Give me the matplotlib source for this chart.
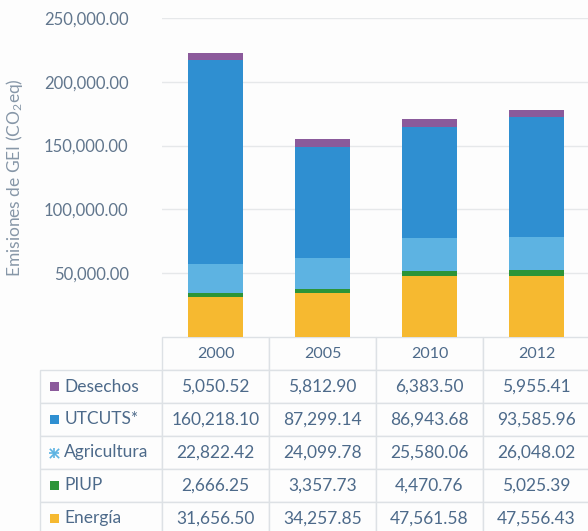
import matplotlib

matplotlib.use("Agg")
import matplotlib.pyplot as plt
from matplotlib.patches import Rectangle

years = ["2000", "2005", "2010", "2012"]
sectors = ["Desechos", "UTCUTS*", "Agricultura", "PIUP", "Energía"]
desechos = [5050.52, 5812.90, 6383.50, 5955.41]
utcuts = [160218.1, 87299.14, 86943.68, 93585.96]
agricultura = [22822.42, 24099.78, 25580.06, 26048.02]
piup = [2666.25, 3357.73, 4470.76, 5025.39]
energia = [31656.50, 34257.85, 47561.58, 47556.43]
colors = ["#8b5a9b", "#2f8fd1", "#5db3e2", "#2c9438", "#f6b930"]

TXT = "#4d6a8a"
plt.rcParams["font.family"] = ["Lato", "DejaVu Sans"]
plt.rcParams["mathtext.default"] = "regular"

W, H = 588, 531
fig = plt.figure(figsize=(W / 100, H / 100), dpi=100)
fig.patch.set_facecolor("#fdfdfd")
ax_l, ax_r, ax_t, ax_b = 162, 590, 18, 337
ax = fig.add_axes([ax_l / W, 1 - ax_b / H, (ax_r - ax_l) / W, (ax_b - ax_t) / H])
ax.set_facecolor("#fdfdfd")

# stacked bars, bottom to top: energia, piup, agricultura, utcuts, desechos
x = range(len(years))
stack = [energia, piup, agricultura, utcuts, desechos]
stack_colors = colors[::-1]
bottom = [0.0] * len(years)
for vals, c in zip(stack, stack_colors):
    ax.bar(x, vals, width=0.52, bottom=bottom, color=c, zorder=3)
    bottom = [b + v for b, v in zip(bottom, vals)]

ax.set_xlim(-0.5, len(years) - 0.5)
ax.set_ylim(0, 250000)
ax.set_yticks([50000, 100000, 150000, 200000, 250000])
ax.set_yticklabels([f"{t:,.2f}" for t in ax.get_yticks()])
ax.tick_params(axis="y", length=0, labelsize=12, labelcolor="#61768d", pad=24)
ax.set_xticks([])
ax.grid(axis="y", color="#e6e8ea", lw=1, zorder=0)
for s in ax.spines.values():
    s.set_visible(False)
ax.set_ylabel("Emisiones de GEI (CO$_2$eq)", fontsize=12.5, color="#8797a8", labelpad=14)

# data table below the axes
ax_h = ax_b - ax_t
lab_w = 122
row_h = 33
nrows = len(sectors) + 1
table_vals = [desechos, utcuts, agricultura, piup, energia]
cell_text = [[name] + [f"{v:,.2f}" for v in vals] for name, vals in zip(sectors, table_vals)]
tab_h = row_h * nrows / ax_h
tbl = ax.table(cellText=cell_text, colLabels=[""] + years,
               colWidths=[lab_w] + [107] * len(years),
               cellLoc="center",
               bbox=[-lab_w / (ax_r - ax_l), -tab_h, 1 + lab_w / (ax_r - ax_l), tab_h])
tbl.auto_set_font_size(False)
for (r, c), cell in tbl.get_celld().items():
    cell.set_edgecolor("#dde1e5")
    cell.set_linewidth(1)
    cell.set_facecolor("#fdfdfd")
    cell.get_text().set_color(TXT)
    cell.get_text().set_fontsize(12.5)
    if r == 0 and c == 0:
        cell.visible_edges = ""
    if r == 0:
        cell.get_text().set_fontsize(11.5)
    if c == 0 and r > 0:
        cell.get_text().set_ha("left")
        cell._loc = "left"
        cell.PAD = 0.2

# legend swatches in the label column
sw_x = (50 - ax_l) / (ax_r - ax_l)
sw_w = 9 / (ax_r - ax_l)
sw_h = 9 / ax_h
for i, c in enumerate(colors):
    yc = -(row_h * (i + 1) + row_h / 2) / ax_h
    if sectors[i] == "Agricultura":
        for m in ("x", "+"):
            ax.scatter([sw_x + sw_w / 2], [yc], marker=m, s=45, color=c, lw=1.2,
                       transform=ax.transAxes, clip_on=False, zorder=5)
    else:
        p = Rectangle((sw_x, yc - sw_h / 2), sw_w, sw_h, transform=ax.transAxes,
                      facecolor=c, edgecolor="none", clip_on=False)
        ax.add_patch(p)

fig.savefig("out.png", dpi=100)
